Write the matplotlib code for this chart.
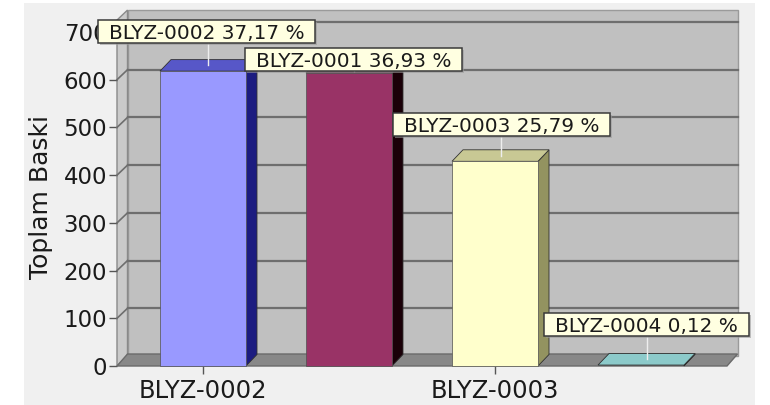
import matplotlib
matplotlib.use("Agg")
import matplotlib.pyplot as plt
from matplotlib.patches import Rectangle, Polygon
from matplotlib.lines import Line2D
from matplotlib.transforms import IdentityTransform

# ---- data ----
categories = ["BLYZ-0002", "BLYZ-0001", "BLYZ-0003", "BLYZ-0004"]
values = [618, 614, 429, 2]
percent_labels = ["37,17 %", "36,93 %", "25,79 %", "0,12 %"]
yticks = [0, 100, 200, 300, 400, 500, 600, 700]
xtick_labels = categories[::2]
ylabel = "Toplam Baski"

# ---- style ----
front_colors = ["#9999ff", "#993366", "#ffffcc", "#8ccaca"]
side_colors = ["#1c1c80", "#1a0008", "#939360", "#4a8a8a"]
top_colors = ["#5757c8", "#6a2446", "#c8c894", "#8ccaca"]
label_offsets_px = [(-2, 34), (-1, 8), (1, 31), (0, 35)]

W, H, DPI = 770, 405, 100
fig = plt.figure(figsize=(W / DPI, H / DPI), dpi=DPI)
fig.patch.set_facecolor("white")
bg = fig.add_axes([24 / W, 0, (755 - 24) / W, 402 / H], zorder=-10)
bg.set_facecolor("#f0f0f0")
bg.set_xticks([])
bg.set_yticks([])
for s in bg.spines.values():
    s.set_visible(False)

# front plane in pixels
L, R, B, T = 117, 727, 366, 32
ax = fig.add_axes([L / W, (H - B) / H, (R - L) / W, (B - T) / H], zorder=1)
ax.set_facecolor("none")
xmin, xmax = -0.589, 3.589
ymin, ymax = 0, 700
ax.set_xlim(xmin, xmax)
ax.set_ylim(ymin, ymax)
for s in ax.spines.values():
    s.set_visible(False)

sx = (xmax - xmin) / (R - L)   # data units per px (x)
sy = (ymax - ymin) / (B - T)   # data units per px (y)
wdx, wdy = 10.5 * sx, 10 * sy  # wall depth
bdx, bdy = 11 * sx, 11.5 * sy  # bar depth
top_ext = 25                   # wall thickness band above 700

kw = dict(clip_on=False)
grid_c = "#6e6e6e"

# back wall
ax.add_patch(Polygon([(xmin + wdx, wdy), (xmax + wdx, wdy), (xmax + wdx, ymax + top_ext + wdy),
                      (xmin + wdx, ymax + top_ext + wdy)], closed=True,
                     fc="#c0c0c0", ec="#9a9a9a", lw=1, zorder=1, **kw))
# left wall
ax.add_patch(Polygon([(xmin, 0), (xmin + wdx, wdy), (xmin + wdx, ymax + top_ext + wdy),
                      (xmin, ymax + top_ext)], closed=True,
                     fc="#cacaca", ec="#8a8a8a", lw=1, zorder=1.5, **kw))
# gridlines
for yv in yticks[1:]:
    ax.add_line(Line2D([xmin + wdx, xmax + wdx], [yv + wdy, yv + wdy], color=grid_c, lw=1.6, zorder=2, **kw))
    ax.add_line(Line2D([xmin, xmin + wdx], [yv, yv + wdy], color=grid_c, lw=1.2, zorder=2, **kw))
# floor
ax.add_patch(Polygon([(xmin, 0), (xmin + wdx, wdy + 2 * sy), (xmax + wdx, wdy + 2 * sy), (xmax, 0)],
                     closed=True, fc="#888888", ec="#6a6a6a", lw=1, zorder=2.5, **kw))

# bars
hw = 0.2945
for i, v in enumerate(values):
    c = i
    side = Polygon([(c + hw, 0), (c + hw + bdx, bdy), (c + hw + bdx, v + bdy), (c + hw, v)],
                   closed=True, fc=side_colors[i], ec="#303030", lw=0.6, zorder=3, **kw)
    top = Polygon([(c - hw, v), (c - hw + bdx, v + bdy), (c + hw + bdx, v + bdy), (c + hw, v)],
                  closed=True, fc=top_colors[i], ec="#303030", lw=0.6, zorder=3.1, **kw)
    ax.add_patch(side)
    ax.add_patch(top)
    if v > 5:
        ax.add_patch(Rectangle((c - hw, 0), 2 * hw, v, fc=front_colors[i], ec="#505050",
                               lw=0.5, zorder=3.2, **kw))

# ticks
ax.set_yticks(yticks)
ax.set_yticklabels([str(t) for t in yticks], fontsize=16.5, family="DejaVu Sans", color="#1a1a1a")
ax.tick_params(axis="y", length=6, width=1, color="#555555", pad=1)
ax.set_xticks([0, 2])
ax.set_xticklabels(xtick_labels, fontsize=17.5, family="DejaVu Sans", color="#1a1a1a")
ax.tick_params(axis="x", length=6, width=1, color="#555555", pad=3)

fig.text(41 / W, 1 - 197 / H, ylabel, rotation=90, ha="center", va="center",
         fontsize=18, family="DejaVu Sans", color="#1a1a1a")

# data labels (box drawn in pixel space)
fig.canvas.draw()
renderer = fig.canvas.get_renderer()
ident = IdentityTransform()
box_h, pad_x = 23, 11
for i, v in enumerate(values):
    ox, oy = label_offsets_px[i]
    px, py = ax.transData.transform((i + bdx / 2, v + bdy / 2))
    cx, cy = px + ox, py + oy
    t = fig.text(cx, cy, f"{categories[i]} {percent_labels[i]}", transform=ident,
                 ha="center", va="center_baseline", fontsize=14.4, color="#1a1a1a",
                 family="DejaVu Sans", zorder=7)
    tw = t.get_window_extent(renderer).width
    bw = tw + 2 * pad_x
    fig.add_artist(Rectangle((cx - bw / 2 + 2, cy - box_h / 2 - 2), bw, box_h, transform=ident,
                             fc="#9a9a9a", ec="none", alpha=0.6, zorder=5))
    fig.add_artist(Rectangle((cx - bw / 2, cy - box_h / 2), bw, box_h, transform=ident,
                             fc="#ffffe1", ec="#3a3a3a", lw=1.1, zorder=6))
    fig.add_artist(Line2D([px, px], [cy - box_h / 2, py], transform=ident,
                          color="#eeeeee", lw=1, zorder=4.5))

fig.savefig("out.png", dpi=DPI)
